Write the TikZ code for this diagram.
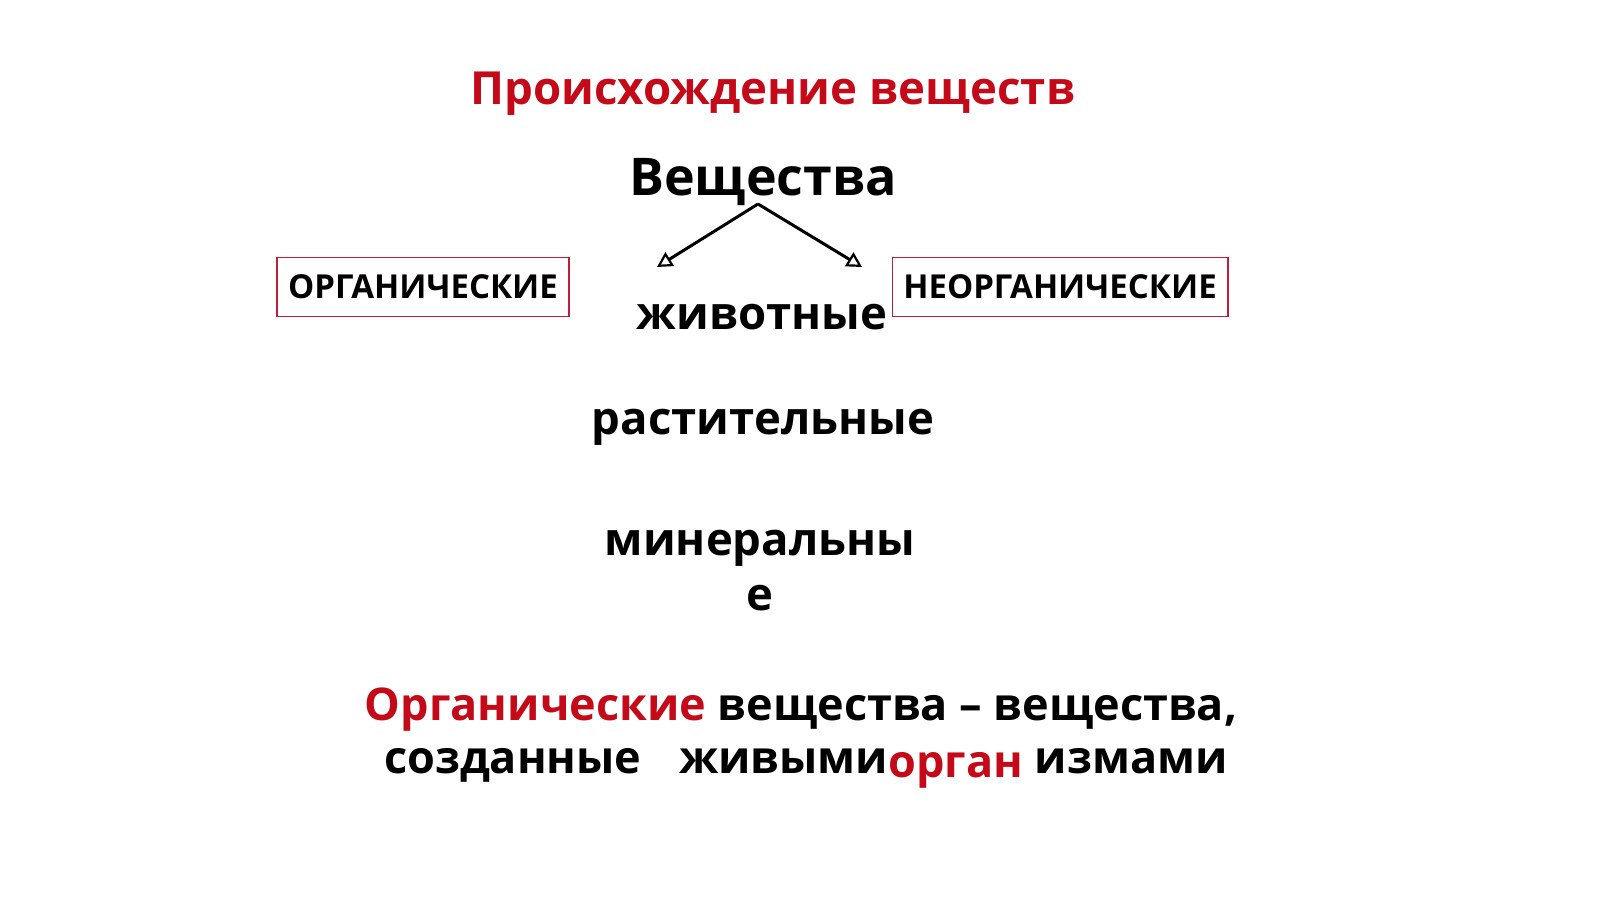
\documentclass[tikz,border=0pt]{standalone}
\usepackage{fontspec}
\setmainfont{Open Sans}[BoldFont={* Bold}]
\usetikzlibrary{arrows.meta}
\definecolor{tred}{RGB}{196,10,24}
\definecolor{bred}{RGB}{190,30,60}
\tikzset{
  title/.style={font=\fontsize{45.6}{50}\selectfont\bfseries, text=tred, inner sep=0pt},
  head/.style={font=\fontsize{52}{60}\selectfont\bfseries, inner sep=0pt},
  kind/.style={font=\fontsize{45.5}{55}\selectfont\bfseries, inner sep=0pt, align=center},
  catbox/.style={draw=bred, line width=1.5pt, font=\fontsize{33}{38}\selectfont\bfseries, minimum height=59pt, inner xsep=11pt},
  deftext/.style={font=\fontsize{45}{50}\selectfont\bfseries, inner sep=0pt},
  arr/.style={line width=3pt, -{Triangle[open, length=15pt, width=16pt, line width=2.2pt]}}
}
\begin{document}
\begin{tikzpicture}[x=1pt,y=-1pt]
\useasboundingbox (0,0) rectangle (1600,899);
\node[title] (t) at (773,94) {Происхождение веществ};
\node[head] (v) at (763,182) {Вещества};
\coordinate (top) at (758,204);
\coordinate (lt) at (657,267);
\coordinate (rt) at (862,267);
\draw[arr] (top) -- (lt);
\draw[arr] (top) -- (rt);
\node[catbox] (org) at (423,287) {ОРГАНИЧЕСКИЕ};
\node[catbox] (neorg) at (1060,287) {НЕОРГАНИЧЕСКИЕ};
\node[kind] (zh) at (762,317) {животные};
\node[kind] (ra) at (763,427) {растительные};
\node[kind] (mi) at (760,571) {минеральны\\е};
\node[deftext] (d1) at (801,710) {\textcolor{tred}{Органические} вещества – вещества,};
\node[deftext] (d2) at (806,768) {созданные\hspace{26pt} живыми\raisebox{-4pt}{\textcolor{tred}{орган}} измами};
\end{tikzpicture}
\end{document}
